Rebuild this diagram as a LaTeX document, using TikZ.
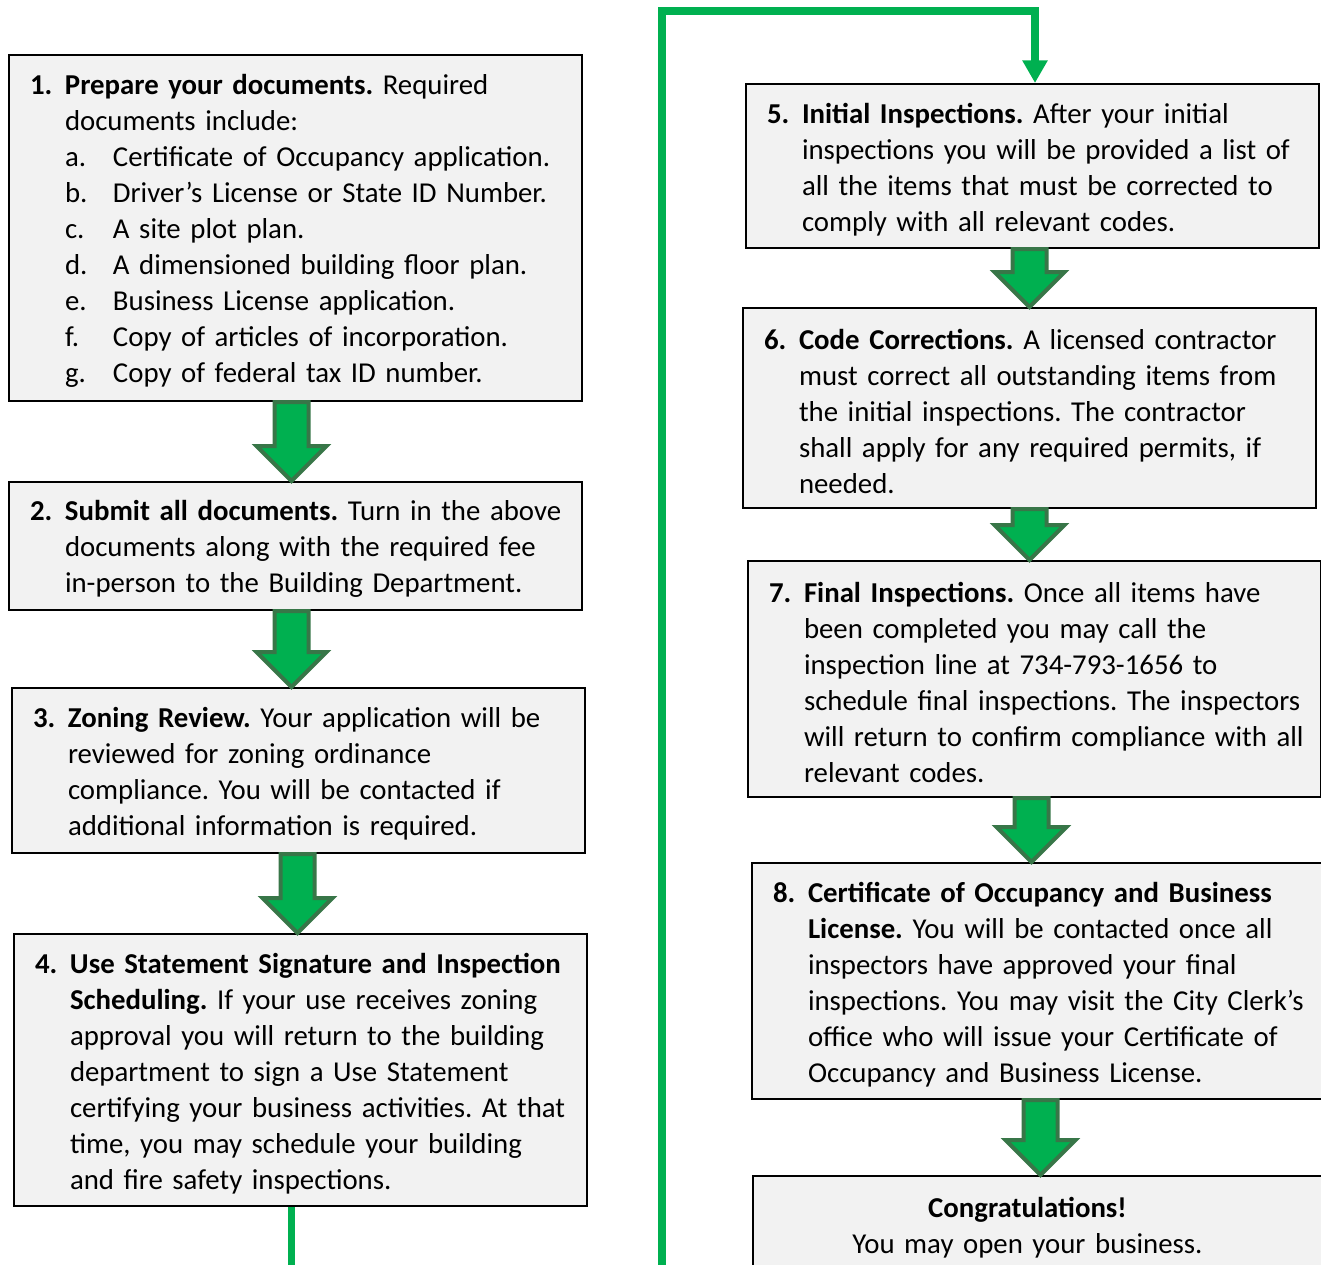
\documentclass[tikz,border=0pt]{standalone}
\usepackage{fontspec}
\setmainfont{Carlito}
\usetikzlibrary{calc,arrows.meta}
\definecolor{boxgray}{RGB}{242,242,242}
\definecolor{flowgreen}{RGB}{0,176,80}
\definecolor{edgegreen}{RGB}{56,118,72}
\newcommand{\boxfont}{\fontsize{21.6pt}{27pt}\selectfont\frenchspacing}
\newcommand{\topstrut}{\rule{0pt}{20pt}}
\newcommand{\stepnum}[2]{\mbox{\topstrut\makebox[26.25pt][l]{\textbf{#1}}#2}}
\newcommand{\indt}[1]{\mbox{\hspace*{26.25pt}#1}}
\newcommand{\subline}[2]{\mbox{\hspace*{26.25pt}\makebox[36pt][l]{#1}#2}}
% block arrow from box #1 down to box #2, shifted by #3
\newcommand{\blockarrow}[3]{%
\draw[blockarr] ($(#1.south)+(#3-17,0)$) -- ($(#1.south|-#2.north)+(#3-17,-35)$) -- ($(#1.south|-#2.north)+(#3-35,-35)$) -- ($(#1.south|-#2.north)+(#3,0)$) -- ($(#1.south|-#2.north)+(#3+35,-35)$) -- ($(#1.south|-#2.north)+(#3+17,-35)$) -- ($(#1.south)+(#3+17,0)$) -- cycle ;}
\tikzset{
  stepbox/.style={draw=black, line width=1.5pt, fill=boxgray, anchor=north west, inner xsep=15.75pt, inner ysep=0pt, text width=398.25pt, minimum width=429.75pt, align=left, font=\boxfont},
  blockarr/.style={fill=flowgreen, draw=edgegreen, line width=3pt},
  loopline/.style={draw=flowgreen, line width=5.5pt, -{Triangle[width=18pt,length=17pt]}}
}
\begin{document}
\begin{tikzpicture}[x=0.75pt,y=0.75pt,yscale=-1,xscale=1]
\useasboundingbox (0,0) rectangle (1321,1264);

%Shape: Rectangle [step 1]
\node[stepbox, minimum height=259.5pt] (s1) at (8,54) {\stepnum{1.}{\textbf{Prepare your documents.} Required}\\
\indt{documents include:}\\
\subline{a.}{Certificate of Occupancy application.}\\
\subline{b.}{Driver’s License or State ID Number.}\\
\subline{c.}{A site plot plan.}\\
\subline{d.}{A dimensioned building floor plan.}\\
\subline{e.}{Business License application.}\\
\subline{f.}{Copy of articles of incorporation.}\\
\subline{g.}{Copy of federal tax ID number.}};
%Shape: Rectangle [step 2]
\node[stepbox, minimum height=96pt] (s2) at (8,481) {\stepnum{2.}{\textbf{Submit all documents.} Turn in the above}\\
\indt{documents along with the required fee}\\
\indt{in-person to the Building Department.}};
%Shape: Rectangle [step 3]
\node[stepbox, minimum height=123.75pt] (s3) at (11,687) {\stepnum{3.}{\textbf{Zoning Review.} Your application will be}\\
\indt{reviewed for zoning ordinance}\\
\indt{compliance. You will be contacted if}\\
\indt{additional information is required.}};
%Shape: Rectangle [step 4]
\node[stepbox, minimum height=204pt] (s4) at (13,933) {\stepnum{4.}{\textbf{Use Statement Signature and Inspection}}\\
\indt{\textbf{Scheduling.} If your use receives zoning}\\
\indt{approval you will return to the building}\\
\indt{department to sign a Use Statement}\\
\indt{certifying your business activities. At that}\\
\indt{time, you may schedule your building}\\
\indt{and fire safety inspections.}};
%Shape: Rectangle [step 5]
\node[stepbox, minimum height=123pt] (s5) at (745,83) {\stepnum{5.}{\textbf{Initial Inspections.} After your initial}\\
\indt{inspections you will be provided a list of}\\
\indt{all the items that must be corrected to}\\
\indt{comply with all relevant codes.}};
%Shape: Rectangle [step 6]
\node[stepbox, minimum height=150pt] (s6) at (742,307) {\stepnum{6.}{\textbf{Code Corrections.} A licensed contractor}\\
\indt{must correct all outstanding items from}\\
\indt{the initial inspections. The contractor}\\
\indt{shall apply for any required permits, if}\\
\indt{needed.}};
%Shape: Rectangle [step 7]
\node[stepbox, minimum height=177pt] (s7) at (747,560) {\stepnum{7.}{\textbf{Final Inspections.} Once all items have}\\
\indt{been completed you may call the}\\
\indt{inspection line at 734-793-1656 to}\\
\indt{schedule final inspections. The inspectors}\\
\indt{will return to confirm compliance with all}\\
\indt{relevant codes.}};
%Shape: Rectangle [step 8]
\node[stepbox, minimum height=177pt] (s8) at (751,862) {\stepnum{8.}{\textbf{Certificate of Occupancy and Business}}\\
\indt{\textbf{License.} You will be contacted once all}\\
\indt{inspectors have approved your final}\\
\indt{inspections. You may visit the City Clerk’s}\\
\indt{office who will issue your Certificate of}\\
\indt{Occupancy and Business License.}};
%Shape: Rectangle [done]
\node[stepbox, minimum height=72pt, align=center] (s9) at (752,1175) {\hspace*{-18pt}\topstrut\textbf{Congratulations!}\\
\hspace*{-18pt}You may open your business.};

%Block Arrows
\blockarrow{s1}{s2}{-4}
\blockarrow{s2}{s3}{-4}
\blockarrow{s3}{s4}{-1}
\blockarrow{s5}{s6}{-3}
\blockarrow{s6}{s7}{0}
\blockarrow{s7}{s8}{-3}
\blockarrow{s8}{s9}{2}

%Connector from step 4 round to step 5
\coordinate (low) at (662,1270);
\coordinate (high) at (662,11);
\draw[loopline] ($(s4.south)+(-9,0)$) |- (low) -- (high) -| ($(s5.north)+(2.5,0)$) ;

\end{tikzpicture}
\end{document}
